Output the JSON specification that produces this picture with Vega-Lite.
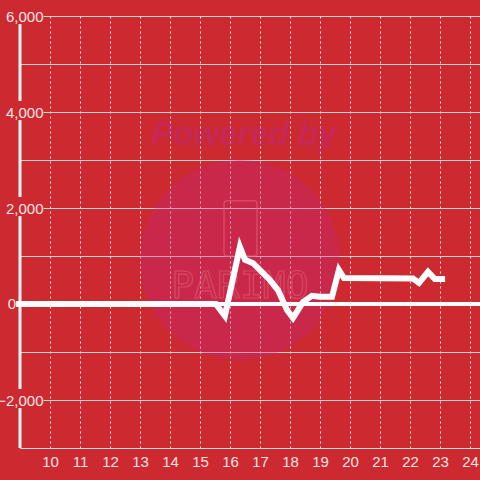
{
  "$schema": "https://vega.github.io/schema/vega-lite/v6.json",
  "width": 460,
  "height": 432,
  "autosize": {"type": "none"},
  "padding": {"left": 20, "top": 16, "right": 0, "bottom": 32},
  "background": "#cc2a30",
  "config": {"view": {"stroke": null}, "font": "Liberation Sans"},
  "data": {"values": [{}]},
  "datasets": {
    "series": [
      {"t": 8.87, "v": 0},
      {"t": 15.53, "v": 0},
      {"t": 15.83, "v": -250},
      {"t": 16.33, "v": 1190},
      {"t": 16.5, "v": 920},
      {"t": 16.77, "v": 850},
      {"t": 17.33, "v": 500},
      {"t": 17.6, "v": 290},
      {"t": 17.9, "v": -125},
      {"t": 18.1, "v": -290},
      {"t": 18.43, "v": 40},
      {"t": 18.73, "v": 170},
      {"t": 19.0, "v": 150},
      {"t": 19.4, "v": 150},
      {"t": 19.63, "v": 710},
      {"t": 19.8, "v": 540},
      {"t": 22.1, "v": 530},
      {"t": 22.3, "v": 440},
      {"t": 22.6, "v": 670},
      {"t": 22.83, "v": 520},
      {"t": 23.17, "v": 520}
    ]
  },
  "encoding": {
    "x": {
      "type": "quantitative",
      "scale": {"domain": [9, 24.3333], "nice": false, "zero": false},
      "axis": {
        "title": null,
        "values": [10, 11, 12, 13, 14, 15, 16, 17, 18, 19, 20, 21, 22, 23, 24],
        "grid": true,
        "gridDash": [2, 3],
        "gridColor": "#eeeeee",
        "gridOpacity": 1,
        "gridWidth": 1,
        "domain": true,
        "domainColor": "#dddddd",
        "domainWidth": 1,
        "ticks": false,
        "tickSize": 0,
        "labelColor": "#f8e3e3",
        "labelFontSize": 15,
        "labelPadding": 6,
        "labelFont": "Liberation Sans"
      }
    },
    "y": {
      "type": "quantitative",
      "scale": {"domain": [-3000, 6000], "nice": false, "zero": false},
      "axis": {
        "title": null,
        "values": [-3000, -2000, -1000, 0, 1000, 2000, 3000, 4000, 5000, 6000],
        "labelExpr": "(datum.value % 2000 == 0 && datum.value > -3000 && datum.value != 0) ? format(datum.value, ',') : ''",
        "grid": true,
        "gridColor": "#d4d4d4",
        "gridOpacity": 1,
        "gridWidth": 1,
        "gridDash": {"condition": {"test": "datum.value % 2000 == 0", "value": [0, 23, 1000]}, "value": []},
        "domain": false,
        "ticks": false,
        "tickSize": 0,
        "labelAlign": "right",
        "labelPadding": -23,
        "labelColor": "#f8e3e3",
        "labelFontSize": 15,
        "labelFont": "Liberation Sans",
        "labelOverlap": false
      }
    }
  },
  "layer": [
    {
      "mark": {"type": "point", "filled": true, "shape": "circle", "size": 40000, "color": "#c22387", "opacity": 0.3, "strokeWidth": 0},
      "encoding": {"x": {"datum": 16.33}, "y": {"datum": 917}}
    },
    {
      "mark": {"type": "text", "text": "Powered by", "font": "Liberation Sans", "fontSize": 33, "fontWeight": "bold", "fontStyle": "italic", "color": "#c22387", "opacity": 0.42, "align": "center", "baseline": "middle"},
      "encoding": {"x": {"datum": 16.47}, "y": {"datum": 3520}}
    },
    {
      "mark": {"type": "text", "text": "PARIMO", "font": "DejaVu Sans Mono", "fontSize": 38, "fill": "transparent", "stroke": "#e46676", "strokeWidth": 1.2, "opacity": 0.55, "align": "center", "baseline": "middle"},
      "encoding": {"x": {"datum": 16.33}, "y": {"datum": 354}}
    },
    {
      "mark": {"type": "rect", "fill": "transparent", "stroke": "#e46676", "strokeWidth": 1.5, "opacity": 0.55, "cornerRadius": 3},
      "encoding": {"x": {"datum": 15.8}, "x2": {"datum": 16.9}, "y": {"datum": 2150}, "y2": {"datum": 1000}}
    },
    {
      "mark": {"type": "rule", "color": "#f4f4f4", "strokeWidth": 3},
      "encoding": {"x": {"datum": 9}, "y": {"datum": 5833}, "y2": {"datum": 4229}}
    },
    {
      "mark": {"type": "rule", "color": "#f4f4f4", "strokeWidth": 3},
      "encoding": {"x": {"datum": 9}, "y": {"datum": 3833}, "y2": {"datum": 2229}}
    },
    {
      "mark": {"type": "rule", "color": "#f4f4f4", "strokeWidth": 3},
      "encoding": {"x": {"datum": 9}, "y": {"datum": 1833}, "y2": {"datum": -1771}}
    },
    {
      "mark": {"type": "rule", "color": "#f4f4f4", "strokeWidth": 3},
      "encoding": {"x": {"datum": 9}, "y": {"datum": -2167}, "y2": {"datum": -3000}}
    },
    {
      "mark": {"type": "rule", "color": "#ffffff", "strokeWidth": 4},
      "encoding": {"y": {"datum": 0}}
    },
    {
      "data": {"name": "series"},
      "mark": {"type": "line", "color": "#ffffff", "strokeWidth": 6, "strokeJoin": "miter"},
      "encoding": {"x": {"field": "t"}, "y": {"field": "v"}}
    },
    {
      "mark": {"type": "text", "text": "0", "font": "Liberation Sans", "fontSize": 15, "color": "#f8e3e3", "align": "center", "baseline": "middle"},
      "encoding": {"x": {"datum": 8.73}, "y": {"datum": 0}}
    }
  ]
}
